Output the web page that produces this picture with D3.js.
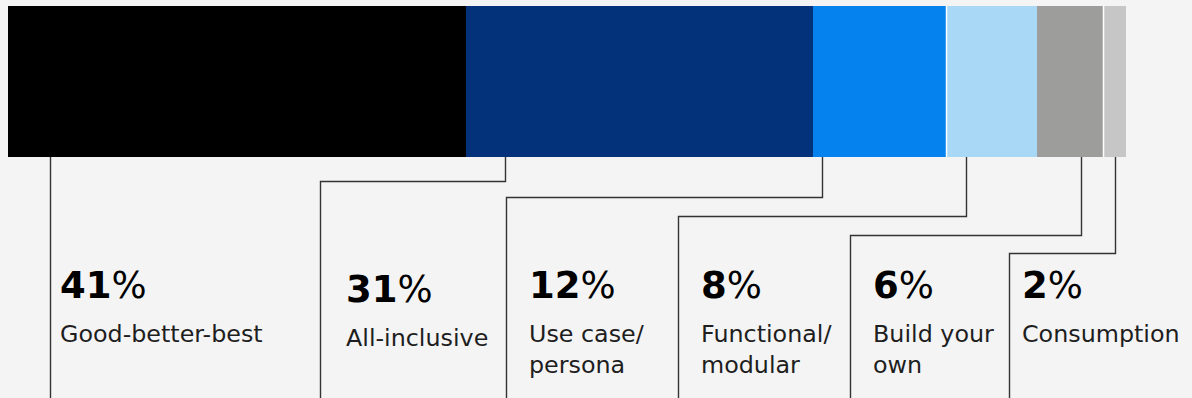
<!DOCTYPE html>
<html>
<head>
<meta charset="utf-8">
<script src="https://cdn.jsdelivr.net/npm/d3@7"></script>
<style>
  html, body { margin: 0; padding: 0; background: #f4f4f4; }
  svg { display: block; font-family: "DejaVu Sans", sans-serif; }
  .pct { font-size: 37px; fill: #000; }
  .pct .num { font-weight: 700; }
  .pct .sign { font-weight: 400; }
  .cat { font-size: 23.8px; fill: #1e1e1e; font-weight: 400; }
  .leader { fill: none; stroke: #333; stroke-width: 1.4; }
</style>
</head>
<body>
<div id="chart"></div>
<script>
// Data
const categories = ["Good-better-best", "All-inclusive", "Use case/persona", "Functional/modular", "Build your own", "Consumption"];
const labelLines = [["Good-better-best"], ["All-inclusive"], ["Use case/", "persona"], ["Functional/", "modular"], ["Build your", "own"], ["Consumption"]];
const shares = [41, 31, 12, 8, 6, 2];
const colors = ["#000000", "#03317a", "#0582ee", "#a8d8f5", "#9d9d9b", "#c6c6c6"];

// Annotation layout
const anchorOffset = [42, 39, 9, 19, 44, 11];   // where the leader leaves each segment
const columnX = [50, 320, 506, 678, 850, 1009];  // vertical line of each label column
const elbowY = [null, 181, 197, 216, 235, 253];
const textX = [60, 346, 529, 701, 873, 1022];
const textShift = [0, 4, 0, 0, 0, 0];
const gapAfter = [2, 4];

const width = 1192, height = 398;
const barTop = 6, barBottom = 157;

const svg = d3.select("#chart")
    .append("svg")
    .attr("width", width)
    .attr("height", height);

svg.append("rect")
    .attr("width", width)
    .attr("height", height)
    .attr("fill", "#f4f4f4");

const x = d3.scaleLinear()
    .domain([0, d3.sum(shares)])
    .rangeRound([8, 1126]);

const ends = Array.from(d3.cumsum(shares));
const starts = ends.map((e, i) => e - shares[i]);

// Stacked bar
svg.selectAll(".seg")
    .data(shares)
    .enter().append("rect")
    .attr("class", "seg")
    .attr("x", (d, i) => x(starts[i]))
    .attr("y", barTop)
    .attr("width", (d, i) => x(ends[i]) - x(starts[i]))
    .attr("height", barBottom - barTop)
    .attr("fill", (d, i) => colors[i]);

// Thin white separators
svg.selectAll(".gap")
    .data(gapAfter)
    .enter().append("line")
    .attr("x1", i => x(ends[i]) - 0.5)
    .attr("x2", i => x(ends[i]) - 0.5)
    .attr("y1", barTop)
    .attr("y2", barBottom)
    .attr("stroke", "#fff")
    .attr("stroke-width", 1.5);

// Leader lines
svg.selectAll(".leader")
    .data(shares)
    .enter().append("path")
    .attr("class", "leader")
    .attr("d", (d, i) => {
        const ax = x(starts[i]) + anchorOffset[i] + 0.5;
        const cx = columnX[i] + 0.5;
        if (elbowY[i] === null) return `M${cx},${barBottom}V${height}`;
        const ey = elbowY[i] + 0.5;
        return `M${ax},${barBottom}V${ey}H${cx}V${height}`;
    });

// Labels
const labels = svg.selectAll(".label")
    .data(categories)
    .enter().append("g")
    .attr("class", "label")
    .attr("transform", (d, i) => `translate(${textX[i]},${textShift[i]})`);

const pct = labels.append("text")
    .attr("class", "pct")
    .attr("y", 298);
pct.append("tspan").attr("class", "num").text((d, i) => shares[i]);
pct.append("tspan").attr("class", "sign").text("%");

labels.each(function (d, i) {
    const t = d3.select(this).append("text")
        .attr("class", "cat")
        .attr("y", 342);
    labelLines[i].forEach((line, j) => {
        t.append("tspan")
            .attr("x", 0)
            .attr("dy", j === 0 ? 0 : 31)
            .text(line);
    });
});
</script>
</body>
</html>
